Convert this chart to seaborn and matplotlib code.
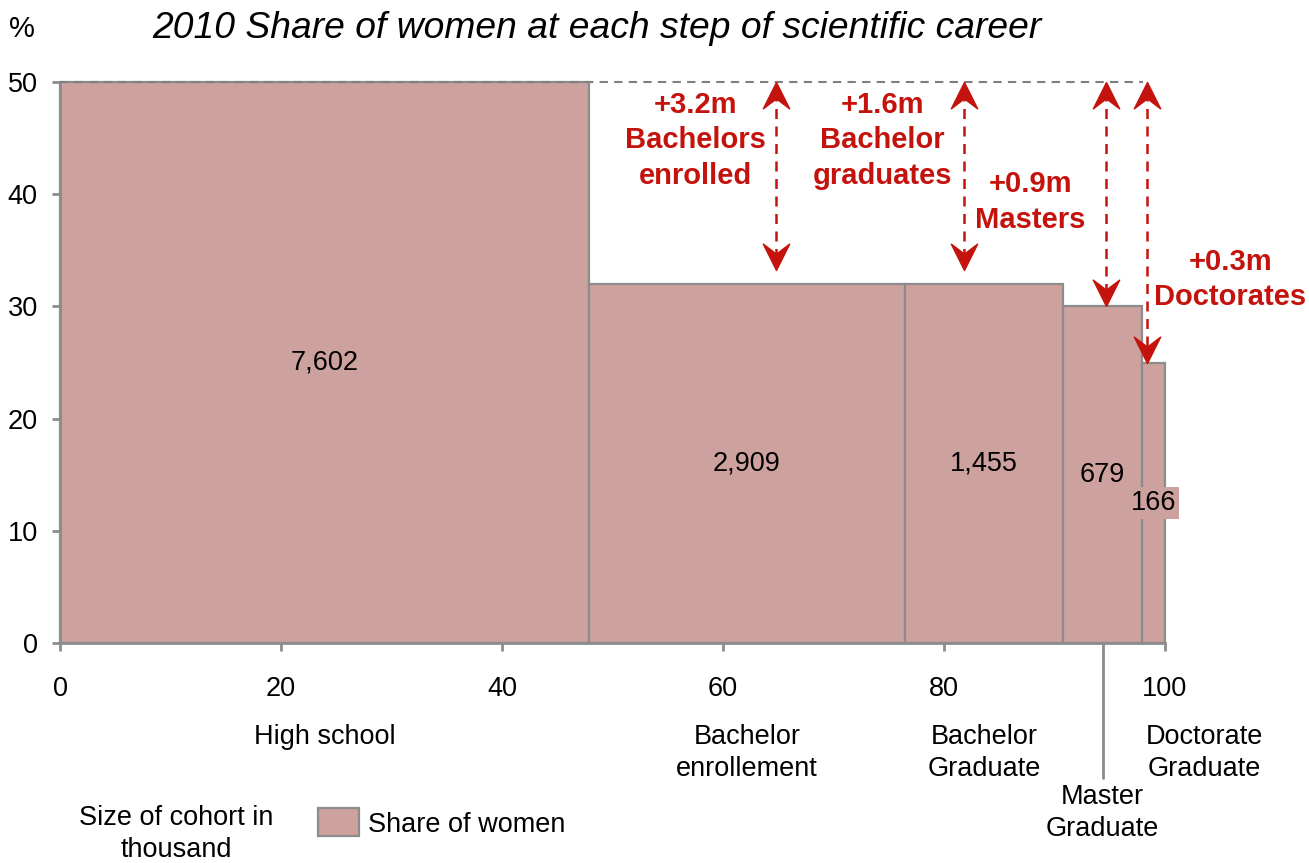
import numpy as np
import pandas as pd
import matplotlib
matplotlib.use("Agg")
import matplotlib.pyplot as plt
import matplotlib.transforms as mtransforms
from matplotlib.path import Path
from matplotlib.patches import Patch
import seaborn as sns

# ---- data -------------------------------------------------------------
stages = ["High school", "Bachelor\nenrollement", "Bachelor\nGraduate",
          "Master\nGraduate", "Doctorate\nGraduate"]
share_women = [50, 32, 32, 30, 25]            # % women at each step
cohort_thousand = [7602, 2909, 1455, 679, 166]  # cohort labels (thousand)

step_labels = ["+3.2m\nBachelors\nenrolled", "+1.6m\nBachelor\ngraduates",
               "+0.9m\nMasters", "+0.3m\nDoctorates"]
step_label_x = [57.5, 74.4, 87.8, 105.9]
step_label_y = [44.8, 44.8, 39.3, 32.4]
arrow_x = [64.8, 81.8, 94.7, 98.4]
arrow_low = [33.2, 33.2, 30.0, 25.0]

x_ticks = [0, 20, 40, 60, 80, 100]
y_ticks = [0, 10, 20, 30, 40, 50]

# ---- style ------------------------------------------------------------
sns.set_theme(style="white")
plt.rcParams["font.family"] = ["Liberation Sans", "DejaVu Sans"]
plt.rcParams["text.color"] = "black"
plt.rcParams["xtick.color"] = "black"
plt.rcParams["ytick.color"] = "black"

PINK = "#CDA19E"
GRAY = "#8C8C8C"
RED = "#C4120C"
FS = 19.5

W, H = 1309, 863
fig = plt.figure(figsize=(W / 100, H / 100), dpi=100)
ax = fig.add_axes([60 / W, 1 - 643 / H, (1165 - 60) / W, (643 - 82) / H])

# bar widths follow the size of each stage relative to the whole
shares = np.array(share_women, dtype=float)
counts = np.array(cohort_thousand, dtype=float)
widths = counts / (shares / 100.0)
widths = widths / widths.sum() * 100.0
edges = np.concatenate([[0.0], np.cumsum(widths)])
centers = (edges[:-1] + edges[1:]) / 2

df = pd.DataFrame({"pos": centers, "share": shares})
sns.histplot(data=df, x="pos", weights="share", bins=[float(e) for e in edges],
             ax=ax, color=PINK, alpha=1, edgecolor=GRAY, linewidth=1.6,
             legend=False)
for p in ax.patches:
    p.set_clip_on(False)

ax.set_xlim(0, 100)
ax.set_ylim(0, 50)
ax.set_xlabel("")
ax.set_ylabel("")
ax.set_xticks(x_ticks)
ax.set_yticks(y_ticks)
for side in ("top", "right"):
    ax.spines[side].set_visible(False)
for side in ("left", "bottom"):
    ax.spines[side].set_color(GRAY)
    ax.spines[side].set_linewidth(2)
ax.tick_params(axis="x", length=6, width=2, color=GRAY, labelcolor="black",
               labelsize=FS, pad=18, direction="out", bottom=True)
ax.tick_params(axis="y", length=6, width=2, color=GRAY, labelcolor="black",
               labelsize=FS, pad=10, direction="out", left=True)

# value labels inside the bars
for i, (c, s, n) in enumerate(zip(centers, shares, counts)):
    kw = {}
    if i == len(counts) - 1:
        kw["bbox"] = dict(boxstyle="square,pad=0.12", facecolor=PINK,
                          edgecolor="none")
    ax.text(c, s / 2, f"{int(n):,}", ha="center", va="center", fontsize=FS,
            color="black", zorder=5, **kw)

# reference level of the first stage
ax.plot([0, arrow_x[-1] - 0.4], [max(share_women)] * 2, ls=(0, (4, 3)),
        color="#7F7F7F", lw=1.5, clip_on=False, zorder=4)

# stealth-style arrow heads (tip at the origin)
up_head = Path([(0, 0), (0.5, -1), (0, -0.62), (-0.5, -1), (0, 0)],
               [Path.MOVETO, Path.LINETO, Path.LINETO, Path.LINETO,
                Path.CLOSEPOLY])
down_head = Path([(0, 0), (0.5, 1), (0, 0.62), (-0.5, 1), (0, 0)],
                 [Path.MOVETO, Path.LINETO, Path.LINETO, Path.LINETO,
                  Path.CLOSEPOLY])
top = max(share_women)
for x, lo in zip(arrow_x, arrow_low):
    ax.plot([x, x], [top - 0.8, lo + 0.8], color=RED, lw=1.8,
            ls=(0, (4, 3)), clip_on=False, zorder=6)
    ax.plot([x], [top], marker=up_head, ms=38, color=RED, lw=0,
            clip_on=False, zorder=7)
    ax.plot([x], [lo], marker=down_head, ms=38, color=RED, lw=0,
            clip_on=False, zorder=7)

for txt, x, y in zip(step_labels, step_label_x, step_label_y):
    ax.text(x, y, txt, ha="center", va="center", fontsize=21,
            fontweight="bold", color=RED, linespacing=1.33, clip_on=False)

# stage names under the axis (x in data, y in figure)
xfig = mtransforms.blended_transform_factory(ax.transData, fig.transFigure)
name_x = list(centers)
name_x[-1] = 103.6
name_y = [737, 753, 753, 813, 753]
for lab, x, y in zip(stages, name_x, name_y):
    ax.text(x, 1 - y / H, lab, transform=xfig, ha="center", va="center",
            fontsize=FS, linespacing=1.26, clip_on=False)
# leader line for the narrow master bar
ax.plot([centers[3], centers[3]], [1 - 643 / H, 1 - 778 / H], transform=xfig,
        color=GRAY, lw=2, clip_on=False)

# title and unit
fig.text(597 / W, 1 - 28 / H, "2010 Share of women at each step of scientific career",
         ha="center", va="center", fontsize=26.8, style="italic")
fig.text(22 / W, 1 - 29 / H, "%", ha="center", va="center", fontsize=21)

# legend
fig.text(176 / W, 1 - 834 / H, "Size of cohort in\nthousand", ha="center",
         va="center", fontsize=FS, linespacing=1.28)
fig.legend(handles=[Patch(facecolor=PINK, edgecolor=GRAY, linewidth=1.6,
                          label="Share of women")],
           loc="center left", bbox_to_anchor=(318 / W, 1 - 823 / H),
           frameon=False, fontsize=FS, handlelength=1.5, handleheight=1.2,
           handletextpad=0.35, borderpad=0, borderaxespad=0)

fig.savefig("out.png", dpi=100)
